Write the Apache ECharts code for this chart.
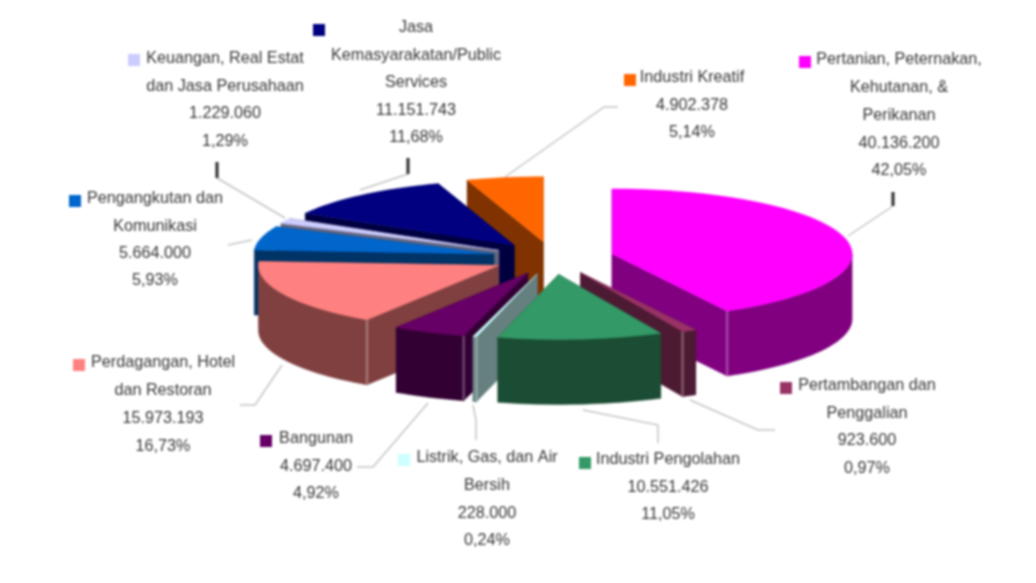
<!DOCTYPE html>
<html>
<head>
<meta charset="utf-8">
<style>
html,body{margin:0;padding:0;background:#fff;}
#chart{width:1036px;height:583px;filter:blur(0.8px);}
</style>
<script src="https://cdn.jsdelivr.net/npm/echarts@6/dist/echarts.min.js"></script>
</head>
<body>
<div id="chart"></div>
<script>
// ---- data ----
const categories = [
  ['Pertanian, Peternakan,', 'Kehutanan, &', 'Perikanan'],
  ['Pertambangan dan', 'Penggalian'],
  ['Industri Pengolahan'],
  ['Listrik, Gas, dan Air', 'Bersih'],
  ['Bangunan'],
  ['Perdagangan, Hotel', 'dan Restoran'],
  ['Pengangkutan dan', 'Komunikasi'],
  ['Keuangan, Real Estat', 'dan Jasa Perusahaan'],
  ['Jasa', 'Kemasyarakatan/Public', 'Services'],
  ['Industri Kreatif']
];
const values = [40136200, 923600, 10551426, 228000, 4697400, 15973193, 5664000, 1229060, 11151743, 4902378];

// ---- style ----
const topColors  = ['#FF00FF','#993366','#339966','#CCFFFF','#660066','#FF8080','#0066CC','#CCCCFF','#000080','#FF6600'];
const wallColors = ['#800080','#4D1A33','#1A4D33','#668080','#330033','#804040','#003366','#666680','#000040','#803300'];
const textColor = '#363636';
const font = '16.2px "Liberation Sans", Arial, sans-serif';

// ---- layout ----
const pie = {cx:553, cy:258, rx:240, ry:65, depth:65, explode:61, squash:0.27};
const labelLayout = [
  {cx:899, y:60,  step:27.7, sw:[805,62]},
  {cx:867, y:386, step:27.4, sw:[786,388]},
  {cx:668, y:460, step:27.5, sw:[585,463]},
  {cx:487, y:458, step:27.6, sw:[404,460]},
  {cx:316, y:439, step:27.5, sw:[266,441]},
  {cx:163, y:363, step:27.7, sw:[79,365]},
  {cx:155, y:199, step:27.3, sw:[75,201]},
  {cx:225, y:59,  step:27.4, sw:[134,60]},
  {cx:416, y:28,  step:27.5, sw:[319,30]},
  {cx:692, y:78,  step:27.5, sw:[630,80]}
];
const leaders = [
  [[848,236],[893,206]],
  [[690,400],[758,430],[775,430]],
  [[583,410],[658,425],[658,443]],
  [[473,405],[476,420],[476,440]],
  [[428,403],[373,467],[357,467]],
  [[282,365],[255,405],[240,405]],
  [[252,240],[228,245]],
  [[285,218],[217,178]],
  [[360,190],[408,174]],
  [[505,177],[604,107],[618,107]]
];
const ticks = [
  [[893,192],[893,206]],
  [[408,158],[408,174]],
  [[217,162],[217,178]]
];

// ---- geometry from the values ----
const total = values.reduce((a,b)=>a+b,0);
const rad = d => d*Math.PI/180;
let acc = 0;
const slices = values.map((v,i)=>{
  const a0 = acc/total*360; acc += v; const a1 = acc/total*360;
  const mid = (a0+a1)/2;
  return {i, a0, a1,
    x: pie.cx + Math.sin(rad(mid))*pie.explode,
    y: pie.cy - Math.cos(rad(mid))*pie.explode*pie.squash};
});
const drawOrder = slices.slice().sort((p,q)=>p.y-q.y).map(s=>s.i);
const rim = (s,a,dz) => [s.x+Math.sin(rad(a))*pie.rx, s.y-Math.cos(rad(a))*pie.ry+(dz||0)];
const arc = (s,a0,a1,dz) => {
  const n = Math.max(2,Math.ceil((a1-a0)/2)), p=[];
  for(let k=0;k<=n;k++) p.push(rim(s,a0+(a1-a0)*k/n,dz));
  return p;
};
function mixWhite(hex,t){
  const n=parseInt(hex.slice(1),16),c=[n>>16,(n>>8)&255,n&255].map(v=>Math.round(v+(255-v)*t));
  return 'rgb('+c.join(',')+')';
}

function renderSlice(params, api){
  const s = slices[api.value(0)], D = pie.depth;
  const wall = wallColors[s.i], top = topColors[s.i];
  const base = {style:{fill:wall, stroke:wall, lineWidth:0.5}};
  const radial = a => {
    const r = rim(s,a);
    return {type:'polygon', shape:{points:[[s.x,s.y],r,[r[0],r[1]+D],[s.x,s.y+D]]}, style:base.style};
  };
  const rW = [s.a0,s.a1].sort((p,q)=>rim(s,p)[1]-rim(s,q)[1]).map(radial);
  const children = rW.slice();
  const v0 = Math.max(s.a0,90), v1 = Math.min(s.a1,270);
  if(v1>v0){
    children.push({type:'polygon', shape:{points:arc(s,v0,v1,0).concat(arc(s,v0,v1,D).reverse())}, style:base.style});
  }
  [s.a0>180 && s.a0<270 ? s.a0 : null, s.a1>90 && s.a1<180 ? s.a1 : null].forEach(a=>{
    if(a===null) return;
    const r = rim(s,a);
    children.push({type:'line', shape:{x1:r[0],y1:r[1],x2:r[0],y2:r[1]+D}, style:{stroke:mixWhite(wall,0.28),lineWidth:2.5}});
  });
  children.push({type:'polygon', shape:{points:[[s.x,s.y]].concat(arc(s,s.a0,s.a1,0))}, style:{fill:top, stroke:top, lineWidth:0.5}});
  return {type:'group', children};
}

function renderLabel(params, api){
  const i = api.value(0), L = labelLayout[i];
  const lines = categories[i].concat([
    values[i].toLocaleString('de-DE'),
    (values[i]/total*100).toFixed(2).replace('.',',')+'%'
  ]);
  const children = lines.map((t,k)=>({
    type:'text',
    style:{text:t, x:L.cx, y:L.y+k*L.step, font, fill:textColor, align:'center', verticalAlign:'middle'}
  }));
  children.push({type:'rect', shape:{x:L.sw[0]-6,y:L.sw[1]-6,width:12,height:12}, style:{fill:topColors[i]}});
  children.push({type:'polyline', shape:{points:leaders[i]}, style:{fill:'none',stroke:'#c4c4c4',lineWidth:1.5}});
  return {type:'group', children};
}

const chart = echarts.init(document.getElementById('chart'), null, {renderer:'canvas'});
chart.setOption({
  animation:false,
  backgroundColor:'#fff',
  series:[
    {type:'custom', coordinateSystem:'none', silent:true, z:2, data:drawOrder.map(i=>[i]), renderItem:renderSlice},
    {type:'custom', coordinateSystem:'none', silent:true, z:1, data:values.map((v,i)=>[i]), renderItem:renderLabel},
    {type:'custom', coordinateSystem:'none', silent:true, z:3, data:ticks.map((t,i)=>[i]),
      renderItem:(p,api)=>{const t=ticks[api.value(0)];return {type:'line',shape:{x1:t[0][0],y1:t[0][1],x2:t[1][0],y2:t[1][1]},style:{stroke:'#2a2a2a',lineWidth:3}};}}
  ]
});
</script>
</body>
</html>
